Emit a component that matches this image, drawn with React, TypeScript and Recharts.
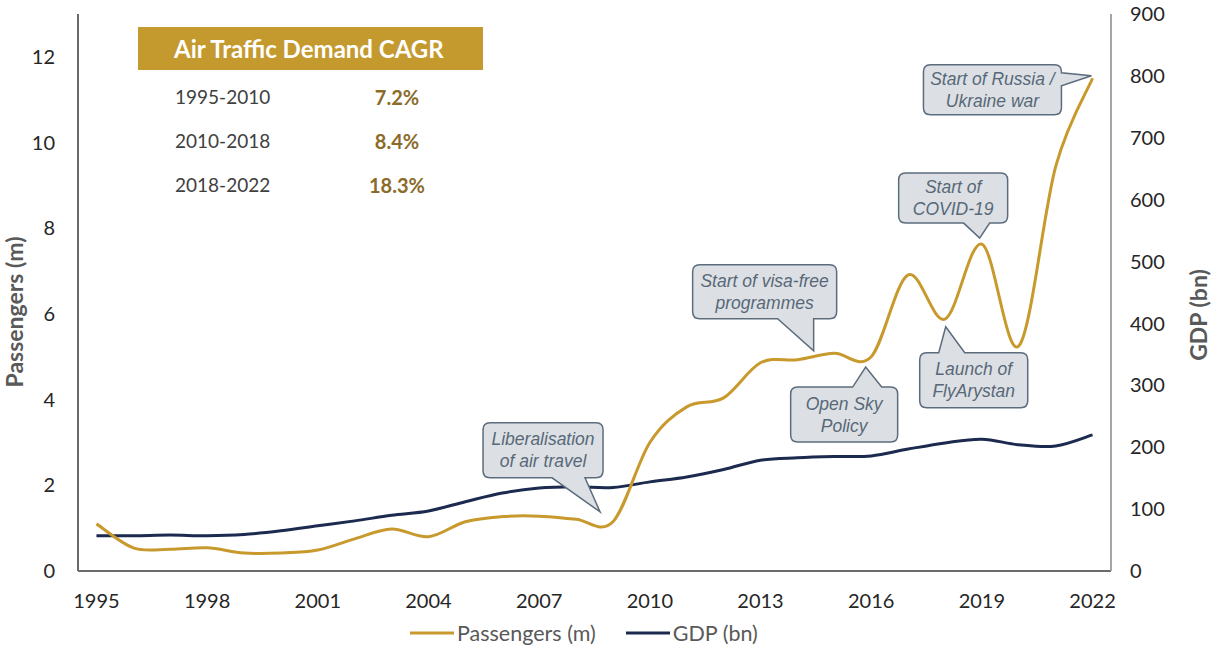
import React from 'react';
import {
  LineChart,
  Line,
  XAxis,
  YAxis,
  Legend,
  ReferenceDot
} from 'recharts';

// yearly values
const years = [
  1995, 1996, 1997, 1998, 1999, 2000, 2001, 2002, 2003, 2004, 2005, 2006, 2007, 2008,
  2009, 2010, 2011, 2012, 2013, 2014, 2015, 2016, 2017, 2018, 2019, 2020, 2021, 2022
];
const passengers = [
  1.1, 0.54, 0.51, 0.54, 0.42, 0.42, 0.49, 0.75, 0.98, 0.8, 1.15, 1.27, 1.28, 1.21,
  1.15, 3.0, 3.83, 4.04, 4.86, 4.93, 5.08, 5.0, 6.91, 5.88, 7.63, 5.25, 9.44, 11.5
];
const gdp = [
  57, 57, 58, 57, 59, 65, 73, 81, 90, 97, 112, 126, 134, 136,
  135, 144, 152, 164, 179, 183, 185, 186, 197, 207, 213, 204, 202, 220
];
const yearTicks = [1995, 1998, 2001, 2004, 2007, 2010, 2013, 2016, 2019, 2022];
const paxTicks = [0, 2, 4, 6, 8, 10, 12];
const gdpTicks = [0, 100, 200, 300, 400, 500, 600, 700, 800, 900];

const cagrPeriods = ['1995-2010', '2010-2018', '2018-2022'];
const cagrValues = ['7.2%', '8.4%', '18.3%'];

const GOLD = '#C8992C';
const NAVY = '#1B2A4E';
const BUBBLE_FILL = '#DCE0E4';
const BUBBLE_LINE = '#5C6C7C';

const chartData = years.map((year, i) => ({
  year,
  passengers: passengers[i],
  gdp: gdp[i]
}));

const series = [
  { name: 'Passengers (m)', color: GOLD },
  { name: 'GDP (bn)', color: NAVY }
];

// callouts: tip sits on (year, value), box and tail are offsets from the tip
type Note = {
  year: number;
  value: number;
  lines: string[];
  box: [number, number, number, number];
  side: 'top' | 'bottom' | 'right';
  base: [number, number];
};
const notes: Note[] = [
  { year: 2008.65, value: 1.38, lines: ['Liberalisation', 'of air travel'], box: [-117, -89, 120, 55], side: 'bottom', base: [-48, -15] },
  { year: 2014.44, value: 5.14, lines: ['Start of visa-free', 'programmes'], box: [-121, -86, 144, 54], side: 'bottom', base: [-36, 0] },
  { year: 2015.85, value: 4.76, lines: ['Open Sky', 'Policy'], box: [-75, 20, 107, 55], side: 'top', base: [-13, 16] },
  { year: 2018.94, value: 7.77, lines: ['Start of', 'COVID-19'], box: [-81, -65, 109, 50], side: 'bottom', base: [-16, 10] },
  { year: 2018.02, value: 5.7, lines: ['Launch of', 'FlyArystan'], box: [-26, 26, 108, 55], side: 'top', base: [-7, 19] },
  { year: 2021.97, value: 11.56, lines: ['Start of Russia /', 'Ukraine war'], box: [-168, -11, 138, 50], side: 'right', base: [-3, 10] }
];

// Excel-like smoothed line (Catmull-Rom through the points)
const excelCurve = (context: any) => {
  let pts: number[][] = [];
  return {
    areaStart() {},
    areaEnd() {},
    lineStart() {
      pts = [];
    },
    point(x: number, y: number) {
      pts.push([+x, +y]);
    },
    lineEnd() {
      if (!pts.length) return;
      context.moveTo(pts[0][0], pts[0][1]);
      for (let i = 0; i < pts.length - 1; i++) {
        const p0 = pts[i - 1] || pts[i];
        const p1 = pts[i];
        const p2 = pts[i + 1];
        const p3 = pts[i + 2] || p2;
        context.bezierCurveTo(
          p1[0] + (p2[0] - p0[0]) / 6,
          p1[1] + (p2[1] - p0[1]) / 6,
          p2[0] - (p3[0] - p1[0]) / 6,
          p2[1] - (p3[1] - p1[1]) / 6,
          p2[0],
          p2[1]
        );
      }
    }
  };
};

const bubblePath = (tx: number, ty: number, n: Note) => {
  const [bx, by, w, h] = n.box;
  const x = tx + bx;
  const y = ty + by;
  const r = 7;
  let d = `M${x + r},${y}`;
  if (n.side === 'top') d += ` L${tx + n.base[0]},${y} L${tx},${ty} L${tx + n.base[1]},${y}`;
  d += ` L${x + w - r},${y} Q${x + w},${y} ${x + w},${y + r}`;
  if (n.side === 'right') d += ` L${x + w},${ty + n.base[0]} L${tx},${ty} L${x + w},${ty + n.base[1]}`;
  d += ` L${x + w},${y + h - r} Q${x + w},${y + h} ${x + w - r},${y + h}`;
  if (n.side === 'bottom') d += ` L${tx + n.base[1]},${y + h} L${tx},${ty} L${tx + n.base[0]},${y + h}`;
  d += ` L${x + r},${y + h} Q${x},${y + h} ${x},${y + h - r} L${x},${y + r} Q${x},${y} ${x + r},${y} Z`;
  return d;
};

const Bubble = (n: Note) => (props: any) => {
  const { cx, cy } = props;
  const [bx, by, w, h] = n.box;
  const midX = cx + bx + w / 2;
  const midY = cy + by + h / 2;
  return (
    <g>
      <path d={bubblePath(cx, cy, n)} fill={BUBBLE_FILL} stroke={BUBBLE_LINE} strokeWidth={1.5} />
      {n.lines.map((t, i) => (
        <text
          key={i}
          x={midX}
          y={midY + (i - 0.5) * 22}
          textAnchor="middle"
          dominantBaseline="central"
          fontFamily="Liberation Sans, Arial, sans-serif"
          fontStyle="italic"
          fontSize={17.5}
          fill="#586878"
        >
          {t}
        </text>
      ))}
    </g>
  );
};

const LegendContent = () => (
  <div style={{ display: 'flex', alignItems: 'center', fontFamily: 'Lato, sans-serif', fontSize: 21.5, color: '#595959' }}>
    {series.map((s, i) => (
      <div key={s.name} style={{ display: 'flex', alignItems: 'center', marginRight: i === 0 ? 30 : 0 }}>
        <svg width={44} height={6} style={{ marginRight: 3 }}>
          <line x1={0} y1={3} x2={44} y2={3} stroke={s.color} strokeWidth={3} />
        </svg>
        <span>{s.name}</span>
      </div>
    ))}
  </div>
);

const axisTitle = (text: string, x: number, y: number) => () => (
  <text
    x={x}
    y={y}
    transform={`rotate(-90, ${x}, ${y})`}
    textAnchor="middle"
    dominantBaseline="central"
    fontFamily="Lato, sans-serif"
    fontWeight="bold"
    fontSize={23}
    fill="#595959"
  >
    {text}
  </text>
);

const tickStyle = { fontFamily: 'Lato, sans-serif', fontSize: 20, fill: '#262626' };

export default function App() {
  return (
    <div style={{ position: 'absolute', left: 0, top: 0, width: 1212, height: 646, background: '#fff' }}>
      <LineChart width={1212} height={646} data={chartData} margin={{ top: 14, right: 0, bottom: 0, left: 0 }}>
        <XAxis
          dataKey="year"
          type="number"
          domain={[1994.5, 2022.5]}
          ticks={yearTicks}
          height={75}
          tickLine={false}
          tickSize={0}
          tickMargin={23}
          axisLine={{ stroke: '#6b6b6b', strokeWidth: 2 }}
          tick={tickStyle}
        />
        <YAxis
          yAxisId="pax"
          domain={[0, 13]}
          ticks={paxTicks}
          width={78}
          tickLine={false}
          tickSize={0}
          tickMargin={23}
          axisLine={{ stroke: '#6b6b6b', strokeWidth: 2 }}
          tick={tickStyle}
          label={axisTitle('Passengers (m)', 14, 312)}
        />
        <YAxis
          yAxisId="gdp"
          orientation="right"
          domain={[0, 900]}
          ticks={gdpTicks}
          width={101}
          tickLine={false}
          tickSize={0}
          tickMargin={19}
          axisLine={{ stroke: '#a6a6a6', strokeWidth: 2 }}
          tick={{ ...tickStyle, textAnchor: 'start' }}
          label={axisTitle('GDP (bn)', 1198, 315)}
        />
        <Line
          yAxisId="gdp"
          dataKey="gdp"
          name="GDP (bn)"
          type={excelCurve as any}
          stroke={NAVY}
          strokeWidth={3}
          dot={false}
          activeDot={false}
          isAnimationActive={false}
        />
        <Line
          yAxisId="pax"
          dataKey="passengers"
          name="Passengers (m)"
          type={excelCurve as any}
          stroke={GOLD}
          strokeWidth={3}
          dot={false}
          activeDot={false}
          isAnimationActive={false}
        />
        {notes.map((n, i) => (
          <ReferenceDot
            key={i}
            yAxisId="pax"
            x={n.year}
            y={n.value}
            r={0}
            ifOverflow="visible"
            shape={Bubble(n)}
          />
        ))}
        <Legend
          layout="horizontal"
          verticalAlign="middle"
          align="center"
          wrapperStyle={{ top: 620, left: 410, width: 'auto' }}
          content={LegendContent}
        />
      </LineChart>

      <div style={{ position: 'absolute', left: 138, top: 27, width: 345, fontFamily: 'Lato, sans-serif' }}>
        <div
          style={{
            height: 43,
            lineHeight: '43px',
            background: '#C4992E',
            color: '#fff',
            fontWeight: 'bold',
            fontSize: 24,
            paddingLeft: 36
          }}
        >
          Air Traffic Demand CAGR
        </div>
        {cagrPeriods.map((p, i) => (
          <div key={p} style={{ position: 'relative', height: 44, lineHeight: '44px', marginTop: i === 0 ? 5 : 0 }}>
            <span style={{ position: 'absolute', left: 37, fontSize: 19, color: '#404040' }}>{p}</span>
            <span
              style={{
                position: 'absolute',
                left: 219,
                width: 80,
                textAlign: 'center',
                fontSize: 20,
                fontWeight: 'bold',
                color: '#8C6B2A'
              }}
            >
              {cagrValues[i]}
            </span>
          </div>
        ))}
      </div>
    </div>
  );
}
